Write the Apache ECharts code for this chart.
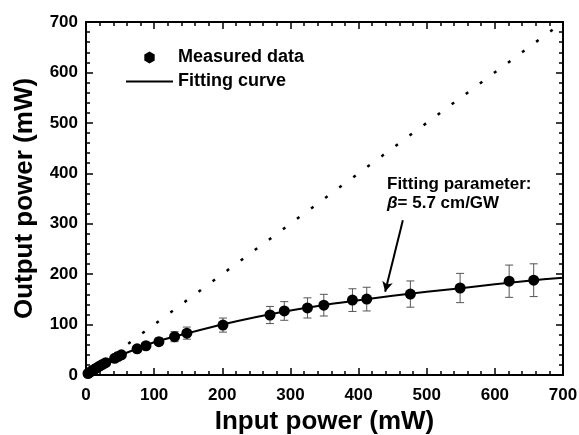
<!DOCTYPE html>
<html>
<head>
<meta charset="utf-8">
<script src="https://cdn.jsdelivr.net/npm/echarts@6/dist/echarts.min.js"></script>
<style>
  html, body { margin: 0; padding: 0; background: #fff; }
  #chart { width: 579px; height: 435px; }
</style>
</head>
<body>
<div id="chart"></div>
<script>
// measured points: input power (mW), output power (mW), error (mW)
const measuredX = [3, 6, 9, 12, 15, 18, 21, 25, 29, 42, 47, 52, 75, 88, 107, 130, 148, 201, 270, 291, 325, 349, 391, 412, 476, 549, 621, 657]
const measuredY = [3, 5.8, 8.5, 11, 13.5, 16, 18.5, 21.5, 24.5, 33, 36.5, 40, 52, 58, 66, 76, 83, 99, 119, 127, 133, 138.5, 148.5, 150.5, 160.5, 172.5, 186, 188]
const measuredErr = [0.5, 0.8, 1, 1.2, 1.5, 1.8, 2, 2.3, 2.6, 3.5, 4, 4.5, 5, 6, 7, 10, 12, 14, 17, 18.5, 20, 21.5, 22.5, 23.5, 26, 29, 32, 32.5]

// fitting curve
const fitX = [0, 10, 25, 50, 75, 100, 150, 200, 250, 300, 350, 400, 450, 500, 550, 600, 650, 700]
const fitY = [0, 9.5, 21.5, 39, 52, 65, 83, 100, 115, 128, 139, 148, 157, 165, 172, 180, 187, 193]

// linear (no absorption) reference
const linearX = [0, 700]
const linearY = [0, 700]

// arrow of the annotation: [start, tip]
const arrowPts = [[465, 307], [439, 165]]

const axisFont = { fontFamily: 'Liberation Sans, Arial, sans-serif', fontWeight: 'bold', color: '#000' }

const chart = echarts.init(document.getElementById('chart'), null, { renderer: 'canvas' })

const tickStyle = { color: '#000', width: 1.5 }

function frameAxis(extra) {
    return Object.assign({
        type: 'value',
        min: 0,
        max: 700,
        interval: 100,
        axisLine: { show: true, onZero: false, lineStyle: { color: '#000', width: 2 } },
        axisTick: { show: true, inside: true, length: 7, lineStyle: tickStyle },
        minorTick: { show: true, splitNumber: 5, length: 4, lineStyle: tickStyle },
        splitLine: { show: false },
    }, extra)
}

const hexagon = 'path://M5,0 L9.33,2.5 L9.33,7.5 L5,10 L0.67,7.5 L0.67,2.5 Z'
const flatLine = 'path://M0,0 L47,0 L47,2 L0,2 Z'

const option = {
    backgroundColor: '#ffffff',
    animation: false,
    grid: { left: 86, right: 16, top: 22, bottom: 60, outerBoundsMode: 'none' },
    legend: {
        left: 126,
        top: 48,
        padding: 0,
        orient: 'vertical',
        itemWidth: 47,
        itemHeight: 12,
        itemGap: 5,
        textStyle: Object.assign({ fontSize: 18, lineHeight: 19 }, axisFont),
        data: [
            { name: 'Measured data', icon: hexagon },
            { name: 'Fitting curve', icon: flatLine },
        ],
    },
    xAxis: [
        frameAxis({
            position: 'bottom',
            name: 'Input power (mW)',
            nameLocation: 'middle',
            nameGap: 34,
            nameTextStyle: Object.assign({ fontSize: 26 }, axisFont),
            axisLabel: Object.assign({ fontSize: 17, margin: 12 }, axisFont),
        }),
        frameAxis({ position: 'top', axisLabel: { show: false } }),
    ],
    yAxis: [
        frameAxis({
            position: 'left',
            name: 'Output power (mW)',
            nameLocation: 'middle',
            nameGap: 48,
            nameTextStyle: Object.assign({ fontSize: 26 }, axisFont),
            axisLabel: Object.assign({ fontSize: 17, margin: 8 }, axisFont),
        }),
        frameAxis({ position: 'right', axisLabel: { show: false } }),
    ],
    graphic: [{
        type: 'text',
        left: 387,
        top: 175,
        style: {
            text: 'Fitting parameter:\n{b|β}= 5.7 cm/GW',
            font: 'bold 17px "Liberation Sans", Arial, sans-serif',
            lineHeight: 19,
            fill: '#000',
            rich: {
                b: { fontStyle: 'italic', fontWeight: 'bold', fontSize: 17, lineHeight: 19 },
            },
        },
    }],
    series: [
        {
            name: 'Linear',
            type: 'line',
            data: linearX.map((x, i) => [x, linearY[i]]),
            symbol: 'none',
            lineStyle: { color: '#000', width: 2.5, type: [3, 14.5] },
            z: 1,
        },
        {
            name: 'Fitting curve',
            type: 'line',
            data: fitX.map((x, i) => [x, fitY[i]]),
            symbol: 'none',
            smooth: 0.3,
            lineStyle: { color: '#000', width: 2 },
            itemStyle: { color: '#000' },
            z: 2,
            markLine: {
                silent: true,
                symbol: ['none', 'arrow'],
                symbolSize: [8, 10],
                label: { show: false },
                lineStyle: { color: '#000', width: 2, type: 'solid' },
                data: [[
                    { coord: arrowPts[0] },
                    { coord: arrowPts[1] },
                ]],
            },
        },
        {
            name: 'Error',
            type: 'custom',
            data: measuredX.map((x, i) => [x, measuredY[i], measuredErr[i]]),
            renderItem: function (params, api) {
                const x = api.value(0)
                const y = api.value(1)
                const e = api.value(2)
                const top = api.coord([x, y + e])
                const bot = api.coord([x, y - e])
                const cap = 4
                const style = { stroke: '#555', lineWidth: 1 }
                return {
                    type: 'group',
                    children: [
                        { type: 'line', shape: { x1: top[0], y1: top[1], x2: bot[0], y2: bot[1] }, style },
                        { type: 'line', shape: { x1: top[0] - cap, y1: top[1], x2: top[0] + cap, y2: top[1] }, style },
                        { type: 'line', shape: { x1: bot[0] - cap, y1: bot[1], x2: bot[0] + cap, y2: bot[1] }, style },
                    ],
                }
            },
            z: 3,
        },
        {
            name: 'Measured data',
            type: 'scatter',
            data: measuredX.map((x, i) => [x, measuredY[i]]),
            symbol: 'circle',
            symbolSize: 11,
            itemStyle: { color: '#000', opacity: 1 },
            z: 4,
        },
    ],
}

chart.setOption(option)
</script>
</body>
</html>
